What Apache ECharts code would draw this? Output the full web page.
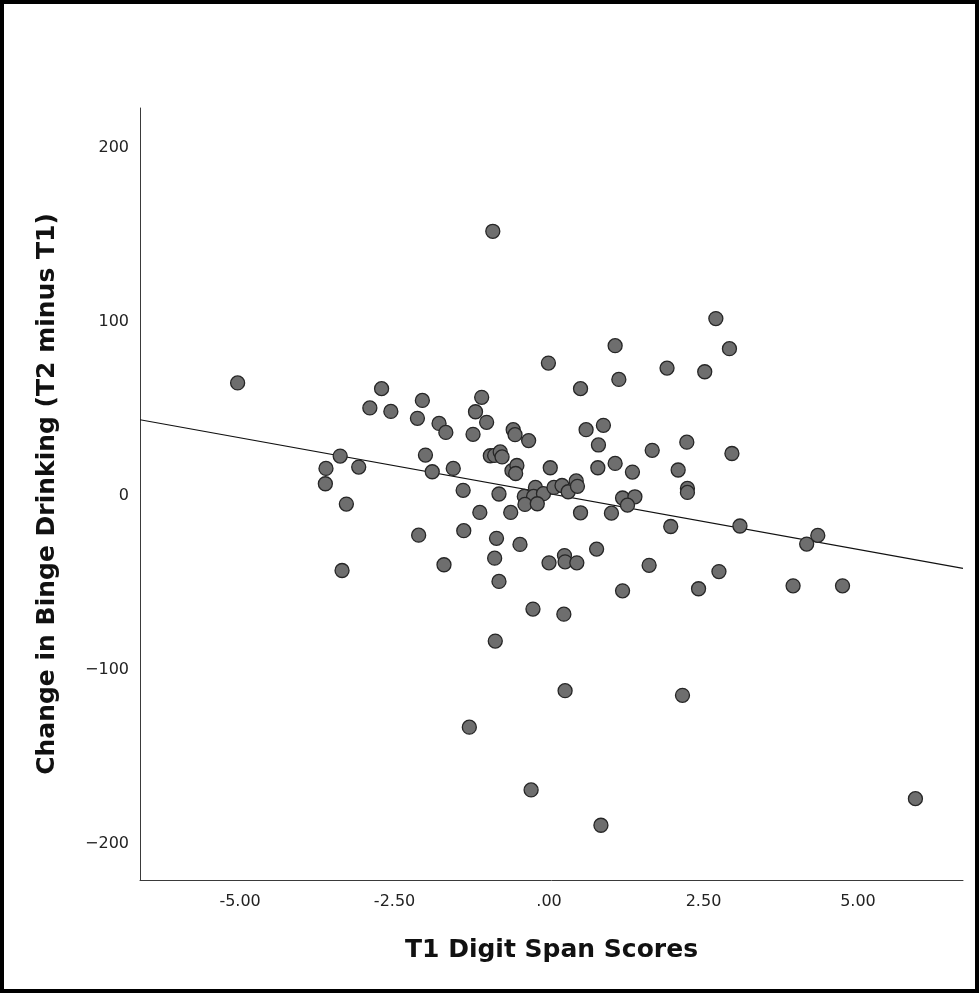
<!DOCTYPE html>
<html>
<head>
<meta charset="utf-8">
<script src="https://cdn.jsdelivr.net/npm/echarts@6/dist/echarts.min.js"></script>
<style>
html,body{margin:0;padding:0;background:#fff;}
#chart{width:979px;height:993px;}
</style>
</head>
<body>
<div id="chart"></div>
<script>
// T1 Digit Span Scores (x) and Change in Binge Drinking (y)
const digitSpan = [
 -5.04,-0.91,2.70,2.92,1.07,-0.01,1.91,2.52,1.13,0.51,
 -2.71,-2.90,-2.56,-2.05,-1.09,-1.19,-2.13,-1.78,-1.67,-1.01,
 -1.23,-0.58,-0.55,-0.33,0.60,0.88,0.80,1.67,2.23,-3.38,
 -2.00,-0.95,-0.88,-0.79,-0.76,2.96,-3.61,-3.08,-1.89,-1.55,
 -0.60,-0.52,-0.54,0.02,0.79,1.07,1.35,2.09,-3.62,-3.28,
 -1.39,-0.81,-0.22,-0.40,-0.25,-0.09,-0.39,-0.19,0.08,0.21,
 0.31,0.44,0.46,1.19,1.39,1.27,2.24,2.24,0.51,1.01,
 -1.12,-0.62,3.09,1.97,-2.11,-1.38,-0.85,-0.47,0.00,0.25,
 0.26,0.45,0.77,1.62,2.75,-1.70,-3.35,-0.88,-0.81,4.17,
 4.35,2.42,3.95,4.75,1.19,-0.26,0.24,-0.87,0.26,2.16,
 -1.29,-0.29,0.84,5.93
];
const bingeChange = [
 64.9,152.1,101.9,84.6,86.3,76.3,73.4,71.3,66.9,61.6,
 61.6,50.5,48.5,54.8,56.6,48.3,44.5,41.6,36.4,42.2,
 35.3,38.0,35.1,31.7,38.0,40.5,29.2,26.1,30.8,22.8,
 23.4,23.0,23.2,25.2,22.3,24.3,15.7,16.5,13.8,15.7,
 14.4,17.4,12.8,16.1,16.1,18.6,13.6,14.8,6.9,-4.8,
 3.1,1.0,4.8,-0.4,-0.4,1.2,-5.0,-4.6,4.8,5.9,
 2.3,8.5,5.4,-1.3,-0.6,-5.4,4.2,1.9,-9.8,-10.0,
 -9.6,-9.6,-17.4,-17.7,-22.7,-20.1,-24.5,-28.0,-38.6,-34.4,
 -38.0,-38.6,-30.7,-40.0,-43.6,-39.7,-43.0,-35.9,-49.3,-27.8,
 -22.8,-53.5,-51.8,-51.8,-54.7,-65.2,-68.1,-83.6,-112.1,-114.8,
 -133.1,-169.2,-189.5,-174.2
];
// Fit line end points (x, y) as drawn in the reference
const fitX = [-6.62, 6.70];
const fitY = [43.7, -41.8];
const xTicks = [-5, -2.5, 0, 2.5, 5];
const yTicks = [-200, -100, 0, 100, 200];

const points = digitSpan.map((x, i) => [x, bingeChange[i]]);
const fitLine = fitX.map((x, i) => [x, fitY[i]]);

const chart = echarts.init(document.getElementById('chart'), null, {renderer: 'canvas'});
const axisCol = '#3a3a3a';
chart.setOption({
  animation: false,
  backgroundColor: '#fff',
  grid: {left: 140, top: 108, right: 16, bottom: 113, containLabel: false},
  graphic: [{
    type: 'rect', silent: true, z: 100,
    shape: {x: 2, y: 2, width: 975, height: 989},
    style: {fill: 'none', stroke: '#000', lineWidth: 4}
  }],
  xAxis: {
    type: 'value', min: -6.62, max: 6.70,
    name: 'T1 Digit Span Scores', nameLocation: 'middle', nameGap: 58,
    nameTextStyle: {fontFamily: 'DejaVu Sans', fontWeight: 'bold', fontSize: 25, color: '#111'},
    axisLine: {show: true, onZero: false, lineStyle: {color: axisCol, width: 1}},
    axisTick: {show: false},
    splitLine: {show: false},
    axisLabel: {
      customValues: xTicks, margin: 14,
      fontFamily: 'DejaVu Sans', fontSize: 16, color: '#222',
      formatter: v => Math.abs(v) < 1e-9 ? '.00' : v.toFixed(2)
    }
  },
  yAxis: {
    type: 'value', min: -221, max: 223,
    name: 'Change in Binge Drinking (T2 minus T1)', nameLocation: 'middle', nameGap: 80, nameRotate: 90,
    nameTextStyle: {fontFamily: 'DejaVu Sans', fontWeight: 'bold', fontSize: 25, color: '#111'},
    axisLine: {show: true, onZero: false, lineStyle: {color: axisCol, width: 1}},
    axisTick: {show: false},
    splitLine: {show: false},
    axisLabel: {
      customValues: yTicks, margin: 11,
      fontFamily: 'DejaVu Sans', fontSize: 16, color: '#222',
      formatter: v => v < 0 ? '\u2212' + Math.abs(v) : String(v)
    }
  },
  series: [
    {
      type: 'line', data: fitLine, symbol: 'none', silent: true, z: 1,
      lineStyle: {color: '#111', width: 1.2}
    },
    {
      type: 'scatter', data: points, symbol: 'circle', symbolSize: 14, z: 2,
      itemStyle: {color: '#6e6e6e', borderColor: '#262626', borderWidth: 1.3, opacity: 1}
    }
  ]
});
</script>
</body>
</html>
